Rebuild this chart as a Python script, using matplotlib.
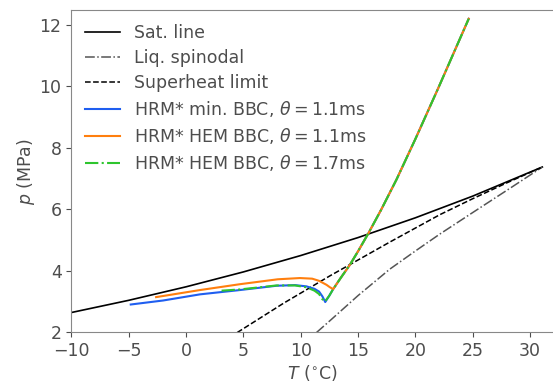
import matplotlib
matplotlib.use('Agg')
import matplotlib.pyplot as plt

# saturation line and metastable limits
T_sat = [-10, -5, 0, 5, 10, 15, 20, 25, 30, 31.07]
p_sat = [2.649, 3.046, 3.485, 3.969, 4.502, 5.086, 5.729, 6.434, 7.214, 7.38]

T_spin = [11.38, 12.54, 15.0, 17.77, 20.0, 22.13, 25.0, 28.5, 31.07]
p_spin = [2.0, 2.38, 3.2, 4.06, 4.65, 5.2, 5.9, 6.75, 7.38]

T_shl = [4.47, 8.5, 12.54, 17.77, 22.13, 25.0, 28.0, 31.07]
p_shl = [2.0, 2.95, 3.84, 4.94, 5.83, 6.35, 6.87, 7.38]

# steep part shared by all three runs
T_up = [12.83, 13.5, 14.29, 15.0, 15.88, 17.0, 18.35, 20.0, 22.0, 24.65]
p_up = [3.41, 3.78, 4.2, 4.64, 5.21, 5.98, 6.97, 8.29, 9.95, 12.2]

T_blue = [-4.82, -2.0, 1.22, 4.7, 7.9, 9.5, 10.5, 11.2, 11.6, 11.9, 12.14, 12.5] + T_up
p_blue = [2.91, 3.04, 3.24, 3.38, 3.52, 3.54, 3.5, 3.42, 3.33, 3.17, 2.99, 3.2] + p_up

T_orange = [-2.61, 1.22, 4.7, 8.0, 9.93, 11.0, 11.6, 12.25, 12.55] + T_up
p_orange = [3.15, 3.38, 3.57, 3.73, 3.77, 3.75, 3.68, 3.55, 3.47] + p_up

T_green = [3.1, 4.7, 7.9, 9.5, 10.5, 11.2, 11.6, 11.85, 12.1, 12.5] + T_up
p_green = [3.36, 3.40, 3.53, 3.53, 3.47, 3.36, 3.25, 3.1, 3.0, 3.2] + p_up

grey = '#4d4d4d'
plt.rcParams['font.size'] = 12.5
plt.rcParams['text.color'] = grey
plt.rcParams['axes.labelcolor'] = grey
plt.rcParams['xtick.color'] = grey
plt.rcParams['ytick.color'] = grey

fig = plt.figure(figsize=(5.53, 3.82), dpi=100)
ax = fig.add_axes([0.129, 0.1296, 0.871, 0.843])

ax.plot(T_sat, p_sat, color='k', lw=1.2, label='Sat. line')
ax.plot(T_spin, p_spin, color='#555555', lw=1.1, ls='-.', label='Liq. spinodal')
ax.plot(T_shl, p_shl, color='k', lw=1.1, ls='--', label='Superheat limit')
ax.plot(T_blue, p_blue, color='#1f5ef0', lw=1.5, label=r'HRM* min. BBC, $\theta=1.1$ms')
ax.plot(T_orange, p_orange, color='#ff7f0e', lw=1.5, label=r'HRM* HEM BBC, $\theta=1.1$ms')
ax.plot(T_green, p_green, color='#2ec52e', lw=1.5, ls='-.', label=r'HRM* HEM BBC, $\theta=1.7$ms')

ax.set_xlim(-10, 32)
ax.set_ylim(2, 12.47)
ax.set_xticks([-10, -5, 0, 5, 10, 15, 20, 25, 30])
ax.set_yticks([2, 4, 6, 8, 10, 12])
ax.set_xlabel(r'$T$ ($^{\circ}$C)', labelpad=2)
ax.set_ylabel(r'$p$ (MPa)', labelpad=2)
for s in ['left', 'bottom', 'top']:
    ax.spines[s].set_color('#888888')
ax.spines['right'].set_visible(False)

ax.legend(loc='upper left', frameon=False, labelspacing=0.4, borderaxespad=0.4)
fig.savefig('out.png', dpi=100)
